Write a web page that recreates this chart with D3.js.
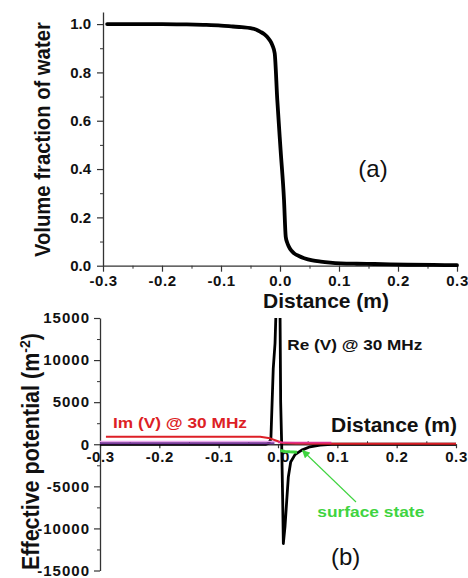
<!DOCTYPE html>
<html>
<head>
<meta charset="utf-8">
<script src="https://cdn.jsdelivr.net/npm/d3@7"></script>
<style>
  html, body { margin: 0; padding: 0; background: #fff; }
  svg { display: block; }
  text { font-family: "Liberation Sans", Arial, sans-serif; }
</style>
</head>
<body>
<svg id="chart" width="468" height="578"></svg>
<script>
// ---------- Panel (a): volume fraction of water across the interface ----------
const distA = [-0.293, -0.25, -0.2, -0.164, -0.13, -0.1, -0.08, -0.065, -0.05, -0.04,
               -0.033, -0.027, -0.0215, -0.017, -0.013, -0.009, -0.0046, 0.001, 0.0068, 0.0097,
               0.012, 0.015, 0.019, 0.024, 0.032, 0.041, 0.055, 0.069, 0.085, 0.103,
               0.13, 0.16, 0.216, 0.26, 0.3];
const waterFraction = [1.0, 1.0, 1.0, 0.999, 0.997, 0.994, 0.99, 0.987, 0.983, 0.977,
                       0.968, 0.959, 0.947, 0.932, 0.913, 0.879, 0.686, 0.479, 0.272, 0.12,
                       0.097, 0.079, 0.063, 0.051, 0.04, 0.031, 0.022, 0.017, 0.013, 0.01,
                       0.008, 0.007, 0.004, 0.003, 0.002];

// ---------- Panel (b): effective potential (m^-2) ----------
const distRe = [-0.3, -0.02, -0.016, -0.012, -0.008, -0.005, -0.002, 0.001, 0.0035, 0.0045,
                0.0062, 0.0079, 0.009, 0.0118, 0.0147, 0.0174, 0.0214, 0.0287, 0.04, 0.054,
                0.071, 0.09, 0.3];
const reV = [0, 0, 100, 600, 9000, 12000, 19000, 21000, 15000, 5000,
             0, -6700, -11800, -9800, -6700, -3900, -2100, -1230, -700, -300,
             -100, 0, 0];

const distIm = [-0.29, -0.1, -0.03, -0.0135, 0.0, 0.0062, 0.03, 0.09, 0.3];
const imV = [900, 900, 890, 700, 350, 185, 90, 70, 60];

const distLavender = [-0.3, -0.1, 0.0];
const lavenderV = [330, 330, 330];

const distPurple = [-0.3, -0.1, -0.006];
const purpleV = [120, 120, 110];

const distMagenta = [0.0, 0.03, 0.09];
const magentaV = [220, 200, 190];

const distSurface = [0.004, 0.012, 0.02, 0.032];
const surfaceV = [-750, -850, -900, -950];

// ---------- Tick values ----------
const xTicks = [-0.3, -0.2, -0.1, 0, 0.1, 0.2, 0.3];
const xMinorTicks = [-0.25, -0.15, -0.05, 0.05, 0.15, 0.25];
const yTicksA = [0, 0.2, 0.4, 0.6, 0.8, 1.0];
const yMinorA = [0.1, 0.3, 0.5, 0.7, 0.9];
const yTicksB = [-15000, -10000, -5000, 0, 5000, 10000, 15000];
const yMinorB = [-12500, -7500, -2500, 2500, 7500, 12500];

const svg = d3.select("#chart");
const axisColor = "#333";
const fmt1 = d => d.toFixed(1);

function styleAxis(g, fontSize, spacing) {
  g.selectAll("path.domain").attr("stroke", axisColor).attr("stroke-width", 1.3);
  g.selectAll(".tick line").attr("stroke", axisColor).attr("stroke-width", 1.2);
  g.selectAll(".tick text")
    .attr("fill", "#111")
    .attr("font-size", fontSize)
    .attr("font-weight", "bold")
    .attr("font-family", "'Liberation Sans', Arial, sans-serif")
    .style("letter-spacing", spacing + "px");
}
function minorAxis(g) {
  g.selectAll("path.domain").remove();
  g.selectAll(".tick line").attr("stroke", axisColor).attr("stroke-width", 1);
  g.selectAll(".tick text").remove();
}
// Rotated axis title: starts at yStart and is squeezed along its length to span
function verticalTitle(x, yStart, span, build) {
  const t = svg.append("text")
    .attr("text-anchor", "start").attr("font-size", 23).attr("font-weight", "bold")
    .attr("fill", "#111");
  build(t);
  const w = t.node().getComputedTextLength();
  t.attr("transform", `translate(${x},${yStart}) rotate(-90) scale(${span / w},1)`);
  return t;
}

// ================= Panel (a) =================
const xA = d3.scaleLinear().domain([-0.3, 0.3]).range([103, 457]);
const yA = d3.scaleLinear().domain([0, 1.05]).range([265.7, 12]);

const gxA = svg.append("g").attr("transform", `translate(0,${yA(0)})`)
  .call(d3.axisBottom(xA).tickValues(xTicks).tickFormat(fmt1).tickSize(6).tickSizeOuter(0).tickPadding(4));
styleAxis(gxA, 15, 0.6);
svg.append("g").attr("transform", `translate(0,${yA(0)})`)
  .call(d3.axisBottom(xA).tickValues(xMinorTicks).tickSize(3)).call(minorAxis);

const gyA = svg.append("g").attr("transform", `translate(${xA(-0.3)},0)`)
  .call(d3.axisLeft(yA).tickValues(yTicksA).tickFormat(fmt1).tickSize(6).tickSizeOuter(0).tickPadding(6));
styleAxis(gyA, 15, 0);
svg.append("g").attr("transform", `translate(${xA(-0.3)},0)`)
  .call(d3.axisLeft(yA).tickValues(yMinorA).tickSize(3)).call(minorAxis);

const lineA = d3.line().x((d, i) => xA(distA[i])).y(d => yA(d)).curve(d3.curveMonotoneX);
svg.append("path").datum(waterFraction)
  .attr("d", lineA).attr("fill", "none").attr("stroke", "#000")
  .attr("stroke-width", 3.8).attr("stroke-linejoin", "round").attr("stroke-linecap", "round");

verticalTitle(50, 257, 235, t => t.text("Volume fraction of water"));

svg.append("text")
  .attr("x", 326).attr("y", 308.3)
  .attr("text-anchor", "middle").attr("font-size", 21).attr("font-weight", "bold")
  .attr("fill", "#111")
  .text("Distance (m)");

svg.append("text")
  .attr("x", 373).attr("y", 176.7)
  .attr("text-anchor", "middle").attr("font-size", 24)
  .attr("font-family", "'Open Sans', sans-serif")
  .attr("fill", "#111")
  .text("(a)");

// ================= Panel (b) =================
const xB = d3.scaleLinear().domain([-0.3, 0.3]).range([100, 456]);
const yB = d3.scaleLinear().domain([-15000, 15000]).range([570.5, 318]);

const gyB = svg.append("g").attr("transform", `translate(${xB(-0.3)},0)`)
  .call(d3.axisLeft(yB).tickValues(yTicksB).tickFormat(d => String(d)).tickSize(6).tickSizeOuter(0).tickPadding(4));
styleAxis(gyB, 15, 1);
svg.append("g").attr("transform", `translate(${xB(-0.3)},0)`)
  .call(d3.axisLeft(yB).tickValues(yMinorB).tickSize(3)).call(minorAxis);

const gxB = svg.append("g").attr("transform", `translate(0,${yB(0)})`)
  .call(d3.axisBottom(xB).tickValues(xTicks).tickFormat(fmt1).tickSize(4).tickSizeOuter(0).tickPadding(3));
styleAxis(gxB, 15, 0.6);
svg.append("g").attr("transform", `translate(0,${yB(0)})`)
  .call(d3.axisTop(xB).tickValues(xMinorTicks).tickSize(3)).call(minorAxis);

svg.append("clipPath").attr("id", "clipB")
  .append("rect").attr("x", 100).attr("y", yB(15000))
  .attr("width", 360).attr("height", yB(-15000) - yB(15000));

const plotB = svg.append("g").attr("clip-path", "url(#clipB)");
function drawSeries(xs, vs, color, width) {
  const line = d3.line().x((d, i) => xB(xs[i])).y(d => yB(d));
  plotB.append("path").datum(vs)
    .attr("d", line).attr("fill", "none").attr("stroke", color)
    .attr("stroke-width", width).attr("stroke-linejoin", "round");
}
drawSeries(distRe, reV, "#000", 2.8);
drawSeries(distLavender, lavenderV, "#e9a6ec", 1.6);
drawSeries(distPurple, purpleV, "#7b3a9e", 2);
drawSeries(distIm, imV, "#dd1f26", 2);
drawSeries(distMagenta, magentaV, "#e0328f", 1.8);
drawSeries(distSurface, surfaceV, "#3fd43f", 3);

// Labels of panel (b)
verticalTitle(38.5, 570, 237, t => {
  t.append("tspan").text("Effective potential (m");
  t.append("tspan").attr("font-size", 15).attr("dy", -9).text("-2");
  t.append("tspan").attr("dy", 9).text(")");
});

svg.append("text")
  .attr("x", 287.3).attr("y", 350)
  .attr("font-size", 15).attr("font-weight", "bold")
  .attr("textLength", 135).attr("lengthAdjust", "spacingAndGlyphs")
  .attr("fill", "#111")
  .text("Re (V) @ 30 MHz");

svg.append("text")
  .attr("x", 113).attr("y", 428.3)
  .attr("font-size", 15).attr("font-weight", "bold")
  .attr("textLength", 134).attr("lengthAdjust", "spacingAndGlyphs")
  .attr("fill", "#dd1f26")
  .text("Im (V) @ 30 MHz");

svg.append("text")
  .attr("x", 331).attr("y", 431.7)
  .attr("font-size", 21).attr("font-weight", "bold")
  .attr("fill", "#111")
  .text("Distance (m)");

svg.append("text")
  .attr("x", 317.3).attr("y", 516.7)
  .attr("font-size", 15).attr("font-weight", "bold")
  .attr("textLength", 107).attr("lengthAdjust", "spacingAndGlyphs")
  .attr("fill", "#3fd43f")
  .text("surface state");

// Arrow from the "surface state" label to the green segment
svg.append("defs").append("marker")
  .attr("id", "arrowGreen").attr("viewBox", "0 0 10 10")
  .attr("refX", 9).attr("refY", 5)
  .attr("markerWidth", 8).attr("markerHeight", 8)
  .attr("markerUnits", "userSpaceOnUse")
  .attr("orient", "auto")
  .append("path").attr("d", "M0,0 L10,5 L0,10 z").attr("fill", "#3fd43f");
svg.append("line")
  .attr("x1", 356).attr("y1", 502).attr("x2", 302.5).attr("y2", 450.5)
  .attr("stroke", "#3fd43f").attr("stroke-width", 1.1)
  .attr("marker-end", "url(#arrowGreen)");

svg.append("text")
  .attr("x", 345.7).attr("y", 565)
  .attr("text-anchor", "middle").attr("font-size", 24)
  .attr("font-family", "'Open Sans', sans-serif")
  .attr("fill", "#111")
  .text("(b)");
</script>
</body>
</html>
